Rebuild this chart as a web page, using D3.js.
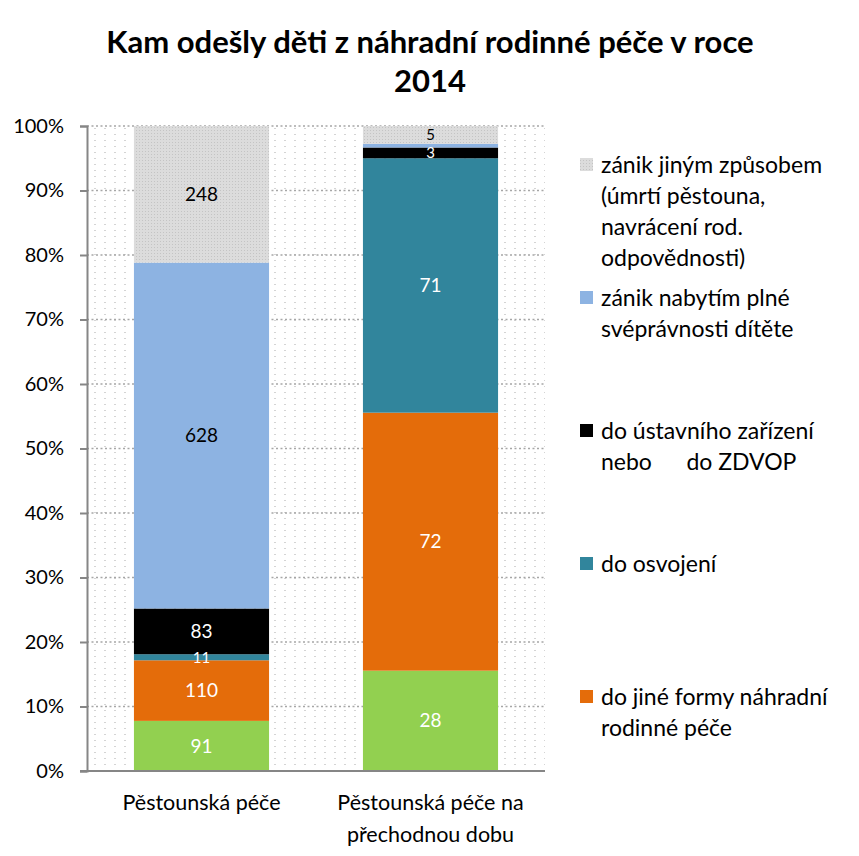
<!DOCTYPE html>
<html><head><meta charset="utf-8">
<script src="https://cdn.jsdelivr.net/npm/d3@7"></script>
<style>body{margin:0;background:#fff}svg{display:block}</style>
</head><body>
<svg id="c" width="859" height="856"></svg>
<script>
const categories = ["Pěstounská péče", "Pěstounská péče na přechodnou dobu"];
const seriesNames = [
  "do vlastní rodiny",
  "do jiné formy náhradní rodinné péče",
  "do osvojení",
  "do ústavního zařízení nebo do ZDVOP",
  "zánik nabytím plné svéprávnosti dítěte",
  "zánik jiným způsobem (úmrtí pěstouna, navrácení rod. odpovědnosti)"
];
const valuesPP  = [91, 110, 11, 83, 628, 248];
const valuesPPP = [28, 72, 71, 3, 1, 5];
const yTicks = [0, 0.1, 0.2, 0.3, 0.4, 0.5, 0.6, 0.7, 0.8, 0.9, 1.0];
const legendLines = [
  ["zánik jiným způsobem", "(úmrtí pěstouna,", "navrácení rod.", "odpovědnosti)"],
  ["zánik nabytím plné", "svéprávnosti dítěte"],
  ["do ústavního zařízení", "nebo\u2003\u2003do ZDVOP"],
  ["do osvojení"],
  ["do jiné formy náhradní", "rodinné péče"]
];
const legendSeries = [5, 4, 3, 2, 1];

const colors = ["#92d050", "#e46c0a", "#31859c", "#000000", "#8db3e2", "url(#greyPat)"];
const labelColors = ["#fff", "#fff", "#fff", "#fff", "#000", "#000"];
const FONT = "Lato, 'Open Sans', sans-serif";

const svg = d3.select("#c");
const defs = svg.append("defs");
const bg = defs.append("pattern").attr("id", "bgPat").attr("patternUnits", "userSpaceOnUse")
  .attr("width", 10).attr("height", 6);
bg.append("rect").attr("width", 10).attr("height", 6).attr("fill", "#fff");
bg.append("rect").attr("x", 4).attr("y", 2).attr("width", 2).attr("height", 1).attr("fill", "#d4d4d4");
const gp = defs.append("pattern").attr("id", "greyPat").attr("patternUnits", "userSpaceOnUse")
  .attr("width", 3).attr("height", 3);
gp.append("rect").attr("width", 3).attr("height", 3).attr("fill", "#dcdcdc");
gp.append("rect").attr("x", 1).attr("y", 1).attr("width", 1).attr("height", 1).attr("fill", "#c4c4c4");

const data = categories.map((c, i) => {
  const vals = i === 0 ? valuesPP : valuesPPP;
  const o = { cat: c };
  seriesNames.forEach((s, j) => o[s] = vals[j]);
  return o;
});

const pL = 87, pR = 545, pT = 126, pB = 771;
const x = d3.scaleBand().domain(categories).range([pL, pR]).paddingInner(0.41).paddingOuter(0.205);
const y = d3.scaleLinear().domain([0, 1]).range([pB, pT]);

svg.append("rect").attr("x", pL).attr("y", pT).attr("width", pR - pL).attr("height", pB - pT)
  .attr("fill", "url(#bgPat)");

svg.append("g").selectAll("line").data(yTicks.filter(t => t > 0)).join("line")
  .attr("x1", pL).attr("x2", pR).attr("y1", d => y(d)).attr("y2", d => y(d))
  .attr("stroke", "#a6a6a6").attr("stroke-width", 1.5).attr("stroke-dasharray", "2,2.5");

const stack = d3.stack().keys(seriesNames).offset(d3.stackOffsetExpand);
const layers = stack(data);

const g = svg.append("g");
layers.forEach((layer, li) => {
  g.selectAll(null).data(layer).join("rect")
    .attr("x", d => x(d.data.cat)).attr("width", x.bandwidth())
    .attr("y", d => y(d[1])).attr("height", d => y(d[0]) - y(d[1]))
    .attr("fill", colors[li]);
});
layers.forEach((layer, li) => {
  g.selectAll(null).data(layer.filter(d => d.data[layer.key] > 1)).join("text")
    .attr("x", d => x(d.data.cat) + x.bandwidth() / 2)
    .attr("y", d => y((d[0] + d[1]) / 2))
    .attr("dy", "0.35em").attr("text-anchor", "middle")
    .attr("font-family", FONT).attr("font-size", d => (d[1] - d[0]) < 0.03 ? 15 : 19)
    .attr("fill", labelColors[li])
    .text(d => d.data[layer.key]);
});

const yAxis = d3.axisLeft(y).tickValues(yTicks).tickFormat(d3.format(".0%")).tickSize(7).tickPadding(16);
const ya = svg.append("g").attr("transform", `translate(${pL},0)`).call(yAxis);
ya.select(".domain").attr("stroke", "#868686").attr("stroke-width", 2);
ya.selectAll(".tick line").attr("stroke", "#868686").attr("stroke-width", 2);
ya.selectAll(".tick text").attr("font-family", FONT).attr("font-size", 20).attr("fill", "#000");

svg.append("line").attr("x1", pL - 7).attr("x2", pR).attr("y1", pB).attr("y2", pB)
  .attr("stroke", "#868686").attr("stroke-width", 2);

const catLines = [["Pěstounská péče"], ["Pěstounská péče na", "přechodnou dobu"]];
categories.forEach((c, i) => {
  const t = svg.append("text").attr("text-anchor", "middle")
    .attr("font-family", FONT).attr("font-size", 21.5).attr("fill", "#000");
  catLines[i].forEach((ln, k) => t.append("tspan")
    .attr("x", x(c) + x.bandwidth() / 2).attr("y", 810 + k * 32).text(ln));
});

const title = svg.append("text").attr("text-anchor", "middle").attr("font-family", FONT)
  .attr("font-weight", "bold").attr("font-size", 31).attr("fill", "#000");
title.append("tspan").attr("x", 430).attr("y", 53).text("Kam odešly děti z náhradní rodinné péče v roce");
title.append("tspan").attr("x", 430).attr("y", 92).text("2014");

legendSeries.forEach((si, i) => {
  const y0 = 165 + i * 133;
  svg.append("rect").attr("x", 580).attr("y", y0 - 7).attr("width", 13).attr("height", 13)
    .attr("fill", colors[si]);
  const t = svg.append("text").attr("font-family", FONT).attr("font-size", 23).attr("fill", "#000");
  legendLines[i].forEach((ln, k) => t.append("tspan").attr("x", 601).attr("y", y0 + 8 + k * 31).text(ln));
});
</script>
</body></html>
